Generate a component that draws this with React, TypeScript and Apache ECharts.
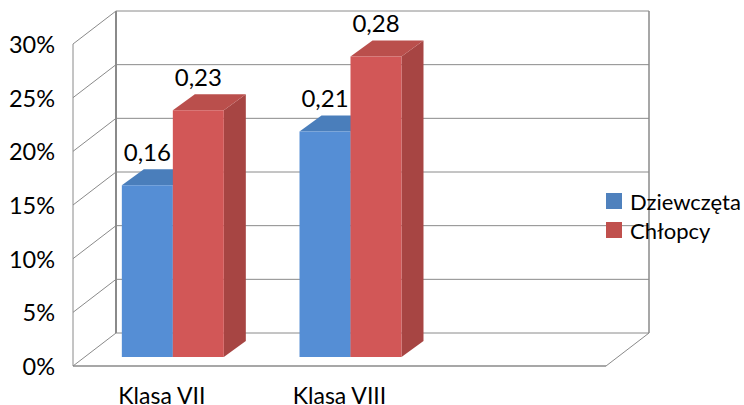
import React, { useEffect, useRef } from "react";
import * as echarts from "echarts";

const categories = ["Klasa VII", "Klasa VIII", ""];
const seriesNames = ["Dziewczęta", "Chłopcy"];
const girls = [0.16, 0.21];
const boys = [0.23, 0.28];
const yTicks = [0, 0.05, 0.1, 0.15, 0.2, 0.25, 0.3];
const girlLabels = ["0,16", "0,21"];
const boyLabels = ["0,23", "0,28"];

const FONT = "Lato, 'Noto Sans', sans-serif";
const WALL = "#8a8a8a";
const DX = 43;
const DY = -33;
const GRID = { left: 73, right: 138, top: 44, bottom: 39, outerBoundsMode: "none" };
const BAR_SHIFT_X = 11;
const BAR_SHIFT_Y = -9;
const BAR_DX = 22;
const BAR_DY = -16;
const BAR_RATIO = 0.287;

function barRender(offsetSign: number, colors: { front: string; top: string; side: string }, labels: string[]) {
  return (params: any, api: any) => {
    const cat = api.value(0);
    const val = api.value(1);
    const base = api.coord([cat, 0]);
    const topPt = api.coord([cat, val]);
    const band = api.size([1, 0])[0];
    const w = band * BAR_RATIO;
    const x0 = base[0] + BAR_SHIFT_X + (offsetSign < 0 ? -w : 0);
    const x1 = x0 + w;
    const yb = base[1] + BAR_SHIFT_Y;
    const yt = topPt[1] + BAR_SHIFT_Y;
    return {
      type: "group",
      children: [
        {
          type: "polygon",
          shape: { points: [[x1, yt], [x1 + BAR_DX, yt + BAR_DY], [x1 + BAR_DX, yb + BAR_DY], [x1, yb]] },
          style: { fill: colors.side },
        },
        {
          type: "polygon",
          shape: { points: [[x0, yt], [x0 + BAR_DX, yt + BAR_DY], [x1 + BAR_DX, yt + BAR_DY], [x1, yt]] },
          style: { fill: colors.top },
        },
        { type: "rect", shape: { x: x0, y: yt, width: w, height: yb - yt }, style: { fill: colors.front } },
        {
          type: "text",
          style: {
            text: labels[params.dataIndex],
            x: (x0 + x1) / 2,
            y: yt + BAR_DY - 18,
            align: "center",
            verticalAlign: "middle",
            fill: "#000",
            font: `24px ${FONT}`,
          },
        },
      ],
    };
  };
}

function wallRender(params: any, api: any) {
  const v = api.value(0);
  const p0 = api.coord([0, v]);
  const band = api.size([1, 0])[0];
  const left = p0[0] - band / 2;
  const right = left + band * categories.length;
  const y = p0[1];
  const line = { stroke: WALL, lineWidth: 1, fill: "none" };
  const children: any[] = [
    { type: "polyline", shape: { points: [[left, y], [left + DX, y + DY], [right + DX, y + DY]] }, style: line },
  ];
  if (v === 0) {
    const yTop = api.coord([0, yTicks[yTicks.length - 1]])[1];
    children.push(
      { type: "line", shape: { x1: left, y1: y, x2: right, y2: y }, style: { stroke: WALL, lineWidth: 1.5 } },
      { type: "line", shape: { x1: right, y1: y, x2: right + DX, y2: y + DY }, style: { stroke: WALL, lineWidth: 1 } },
      { type: "line", shape: { x1: left, y1: y, x2: left, y2: yTop }, style: { stroke: WALL, lineWidth: 1 } },
      { type: "line", shape: { x1: left + DX, y1: y + DY, x2: left + DX, y2: yTop + DY }, style: { stroke: WALL, lineWidth: 2 } },
      { type: "line", shape: { x1: right + DX, y1: y + DY, x2: right + DX, y2: yTop + DY }, style: { stroke: WALL, lineWidth: 1.5 } },
    );
  }
  return { type: "group", children };
}

export default function App() {
  const ref = useRef<HTMLDivElement>(null);
  useEffect(() => {
    const chart = echarts.init(ref.current!, undefined, { renderer: "svg" });
    chart.setOption({
      animation: false,
      backgroundColor: "#fff",
      grid: GRID,
      xAxis: {
        type: "category",
        data: categories,
        axisLine: { show: false },
        axisTick: { show: false },
        axisLabel: { color: "#000", fontFamily: FONT, fontSize: 23, lineHeight: 18, margin: 20, interval: 0 },
      },
      yAxis: {
        type: "value",
        min: 0,
        max: 0.3,
        interval: 0.05,
        axisLine: { show: false },
        axisTick: { show: false },
        splitLine: { show: false },
        axisLabel: {
          color: "#000",
          fontFamily: FONT,
          fontSize: 23.5,
          margin: 18,
          formatter: (v: number) => `${Math.round(v * 100)}%`,
        },
      },
      legend: {
        orient: "vertical",
        left: 606,
        top: 190,
        padding: 0,
        itemWidth: 16,
        itemHeight: 16,
        itemGap: 7,
        icon: "rect",
        data: seriesNames,
        textStyle: { color: "#000", fontFamily: FONT, fontSize: 22, padding: [0, 0, 0, 3] },
        formatter: (n: string) => n,
      },
      series: [
        {
          type: "custom",
          name: "walls",
          silent: true,
          renderItem: wallRender,
          data: yTicks.map((v) => [v]),
          encode: { y: 0 },
          z: 1,
        },
        {
          type: "custom",
          name: seriesNames[0],
          itemStyle: { color: "#4F81BD" },
          renderItem: barRender(-1, { front: "#558ED5", top: "#4A7EBB", side: "#42709F" }, girlLabels),
          data: girls.map((v, i) => [i, v]),
          encode: { x: 0, y: 1 },
          z: 2,
        },
        {
          type: "custom",
          name: seriesNames[1],
          itemStyle: { color: "#C0504D" },
          renderItem: barRender(1, { front: "#D25757", top: "#BA4F4C", side: "#A74543" }, boyLabels),
          data: boys.map((v, i) => [i, v]),
          encode: { x: 0, y: 1 },
          z: 3,
        },
      ],
    });
    return () => chart.dispose();
  }, []);
  return <div ref={ref} style={{ position: "fixed", left: 0, top: 0, width: 744, height: 405 }} />;
}
